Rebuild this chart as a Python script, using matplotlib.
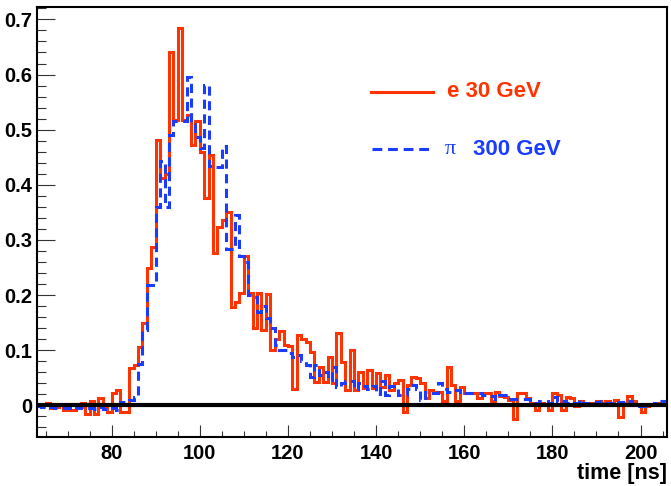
import matplotlib
matplotlib.use("Agg")
import matplotlib.pyplot as plt
import numpy as np
from matplotlib.ticker import MultipleLocator
from matplotlib.lines import Line2D

# histogram range [ns], 1 ns bins
t_lo = 63
t_hi = 206

# e 30 GeV, bins 63..205
e30 = [-0.002, 0.0, 0.004, -0.005, -0.003, 0.0, -0.009, -0.008, -0.008, -0.004,
       0.005, -0.015, 0.007, -0.015, 0.013, -0.002, -0.012, 0.023, 0.027, -0.012,
       -0.013, 0.067, 0.073, 0.106, 0.149, 0.249, 0.288, 0.481, 0.412, 0.42,
       0.64, 0.518, 0.685, 0.518, 0.527, 0.472, 0.515, 0.46, 0.376, 0.454,
       0.276, 0.324, 0.336, 0.351, 0.179, 0.187, 0.203, 0.27, 0.203, 0.14,
       0.203, 0.137, 0.202, 0.100, 0.121, 0.134, 0.109, 0.107, 0.029, 0.128,
       0.121, 0.114, 0.097, 0.043, 0.070, 0.043, 0.088, 0.040, 0.132, 0.079,
       0.028, 0.10, 0.028, 0.061, 0.031, 0.064, 0.031, 0.058, 0.034, 0.055,
       0.028, 0.040, 0.046, -0.012, 0.037, 0.051, 0.049, 0.041, 0.013, 0.027,
       0.025, 0.025, 0.007, 0.069, 0.037, 0.007, 0.033, 0.023, 0.023, 0.023,
       0.013, 0.023, 0.023, 0.007, 0.025, 0.016, 0.015, 0.010, -0.024, 0.022,
       0.023, 0.013, 0.004, -0.009, 0.004, 0.002, -0.009, 0.023, 0.019, -0.009,
       0.015, 0.013, -0.002, 0.007, 0.0, 0.005, 0.004, 0.007, 0.005, 0.007,
       0.004, 0.010, -0.022, 0.004, 0.017, 0.007, 0.0, -0.012, -0.002, 0.002,
       0.002, 0.005, 0.005]

# pi 300 GeV, bins 63..205
pi300 = [-0.002, -0.003, -0.002, -0.003, -0.004, -0.004, -0.005, -0.004, -0.006, -0.004,
         -0.003, -0.005, -0.004, -0.006, -0.003, -0.007, -0.006, -0.004, -0.008, 0.006,
         0.007, 0.01, 0.015, 0.075, 0.137, 0.218, 0.218, 0.36, 0.444, 0.36,
         0.49, 0.515, 0.515, 0.515, 0.596, 0.51, 0.487, 0.467, 0.581, 0.435,
         0.433, 0.433, 0.47, 0.283, 0.283, 0.345, 0.27, 0.26, 0.2, 0.197,
         0.17, 0.18, 0.158, 0.14, 0.109, 0.1, 0.1, 0.095, 0.088, 0.091,
         0.08, 0.073, 0.052, 0.073, 0.055, 0.06, 0.046, 0.07, 0.033, 0.04,
         0.045, 0.045, 0.029, 0.04, 0.035, 0.03, 0.035, 0.02, 0.045, 0.019,
         0.035, 0.035, 0.019, 0.019, 0.03, 0.037, 0.03, 0.01, 0.025, 0.023,
         0.023, 0.04, 0.03, 0.025, 0.027, 0.027, 0.02, 0.022, 0.022, 0.023,
         0.023, 0.018, 0.016, 0.016, 0.012, 0.019, 0.019, 0.012, 0.011, 0.011,
         0.012, 0.012, 0.01, 0.005, 0.008, 0.007, 0.004, 0.015, 0.006, 0.007,
         0.005, 0.003, 0.004, 0.009, 0.005, 0.003, 0.004, 0.006, 0.007, 0.004,
         0.005, 0.003, 0.006, 0.004, 0.007, 0.003, -0.002, -0.002, 0.004, 0.003,
         0.005, 0.007, 0.007]

red = "#ff3300"
blue = "#1a3cff"
font = "Liberation Sans"

edges = np.arange(t_lo, t_hi + 1)

fig = plt.figure(figsize=(6.71, 4.86), dpi=100)
ax = fig.add_axes([0.0547, 0.1008, 0.9393, 0.8842])

ax.stairs(e30, edges, baseline=None, color=red, lw=2.2, zorder=2)
ax.stairs(pi300, edges, baseline=None, color=blue, lw=2.2,
          linestyle=(0, (3, 1.8)), zorder=2.5)
ax.axhline(0, color="k", lw=3, zorder=4)

ax.set_xlim(t_lo, t_hi)
ax.set_ylim(-0.0575, 0.722)

ax.xaxis.set_major_locator(MultipleLocator(20))
ax.xaxis.set_minor_locator(MultipleLocator(5))
ax.yaxis.set_minor_locator(MultipleLocator(0.02))
ax.set_yticks(np.arange(0, 0.71, 0.1))
ax.set_yticklabels(["0", "0.1", "0.2", "0.3", "0.4", "0.5", "0.6", "0.7"])

ax.tick_params(axis="both", which="both", direction="in", top=False, right=False,
               width=0.8, color="#333333")
ax.tick_params(axis="y", which="major", length=13, pad=3)
ax.tick_params(axis="y", which="minor", length=6.5)
ax.tick_params(axis="x", which="major", length=8.6, pad=5)
ax.tick_params(axis="x", which="minor", length=4.3)
for lab in ax.get_xticklabels() + ax.get_yticklabels():
    lab.set_fontfamily(font)
    lab.set_fontweight("bold")
    lab.set_fontsize(14.5)

for s in ax.spines.values():
    s.set_linewidth(1.5)

fig.text(0.994, 0.004, "time [ns]", ha="right", va="bottom",
         fontfamily=font, fontweight="bold", fontsize=15.5)

# legend
fig.add_artist(Line2D([0.5525, 0.6449], [0.8113, 0.8113], color=red, lw=2.2))
fig.text(0.666, 0.8107, "e 30 GeV", color=red, ha="left", va="center",
         fontfamily=font, fontweight="bold", fontsize=16)
fig.add_artist(Line2D([0.554, 0.641], [0.6928, 0.6928], color=blue, lw=2.2,
                      linestyle=(0, (3.2, 1.9))))
fig.text(0.663, 0.6914, "\u03c0", color=blue, ha="left", va="center",
         fontfamily="Liberation Serif", fontsize=16)
fig.text(0.7045, 0.6914, "300 GeV", color=blue, ha="left", va="center",
         fontfamily=font, fontweight="bold", fontsize=16)

fig.savefig("out.png", dpi=100)
